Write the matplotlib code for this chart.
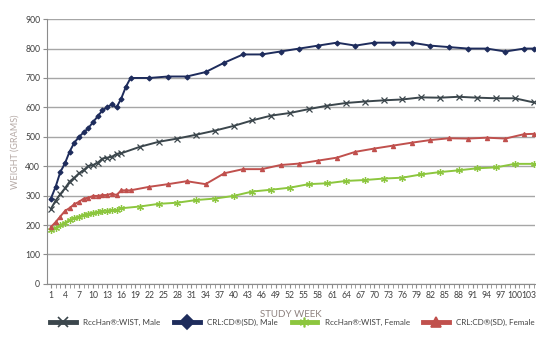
import matplotlib.pyplot as plt
from matplotlib.lines import Line2D
from matplotlib.ticker import MultipleLocator

plt.rcParams['font.family'] = ['Lato', 'DejaVu Sans']

# study weeks with measurements
weeks_rcc = list(range(1, 17)) + list(range(20, 101, 4)) + [104]
weeks_crl = list(range(1, 19)) + list(range(22, 103, 4)) + [104]

rcc_male = [255, 283, 305, 325, 348, 361, 376, 387, 401, 404, 412, 426, 429, 432, 442, 444,
            466, 483, 494, 507, 521, 537, 556, 572, 581, 594, 606, 615, 620, 624, 627, 634,
            633, 636, 633, 631, 631, 617]
rcc_female = [182, 190, 200, 208, 217, 224, 229, 234, 239, 242, 244, 248, 249, 251, 251, 257,
              263, 272, 276, 285, 290, 299, 314, 320, 327, 339, 342, 350, 353, 358, 361, 372,
              380, 386, 393, 396, 408, 408]
crl_male = [290, 330, 380, 410, 450, 480, 500, 515, 530, 550, 570, 590, 600, 610, 600, 630,
            670, 700, 700, 705, 705, 720, 752, 780, 780, 790, 800, 810, 820, 810, 820, 820,
            820, 810, 805, 800, 800, 790, 800, 800]
crl_female = [193, 210, 229, 248, 258, 271, 279, 290, 293, 299, 299, 302, 302, 307, 302, 318,
              318, 318, 330, 339, 349, 339, 376, 390, 390, 404, 409, 419, 429, 449, 460, 470,
              480, 489, 495, 494, 497, 494, 509, 510]

labels = ['RccHan®:WIST, Male', 'CRL:CD®(SD), Male', 'RccHan®:WIST, Female', 'CRL:CD®(SD), Female']
colors = ['#3b464c', '#1e2c5c', '#8cc63e', '#c0504d']
markers = ['x', 'D', (6, 2, 0), '^']

fig = plt.figure(figsize=(5.36, 3.42), dpi=100)
ax = fig.add_axes([0.088, 0.170, 0.910, 0.774])

series = [(weeks_rcc, rcc_male), (weeks_crl, crl_male), (weeks_rcc, rcc_female), (weeks_crl, crl_female)]
msizes = [4, 2.5, 5, 3]
for (x, y), c, m, ms in zip(series, colors, markers, msizes):
    ax.plot(x, y, color=c, marker=m, markersize=ms, linewidth=1.4, markeredgewidth=0.9)

ax.set_xlim(0.2, 104.3)
ax.set_ylim(0, 900)
ax.set_xticks(range(1, 104, 3))
ax.xaxis.set_minor_locator(MultipleLocator(1))
ax.yaxis.set_major_locator(MultipleLocator(100))
ax.grid(axis='y', color='#a6a6a6', linewidth=1)
ax.set_axisbelow(True)

for s in ['top', 'right']:
    ax.spines[s].set_visible(False)
for s in ['left', 'bottom']:
    ax.spines[s].set_color('#8c8c8c')
ax.tick_params(axis='both', which='both', colors='#8c8c8c', labelcolor='#404040', labelsize=6.2)
ax.tick_params(axis='x', which='major', length=3, pad=2)
ax.tick_params(axis='x', which='minor', length=3)
ax.tick_params(axis='y', length=3, pad=2)

ax.set_xlabel('STUDY WEEK', color='#8f8380', fontsize=7, labelpad=7)
ax.set_ylabel('WEIGHT (GRAMS)', color='#b5a9a5', fontsize=6.5, labelpad=4)

handles = [Line2D([], [], color=c, marker=m, linewidth=3.5, markersize=7, markeredgewidth=1.2)
           for c, m in zip(colors, markers)]
fig.legend(handles, labels, loc='lower left', bbox_to_anchor=(0.080, 0.025), ncol=4,
           frameon=False, fontsize=5.8, handlelength=3.2, handletextpad=0.9,
           columnspacing=1.7, labelcolor='#404040')

fig.savefig('out.png', dpi=100)
